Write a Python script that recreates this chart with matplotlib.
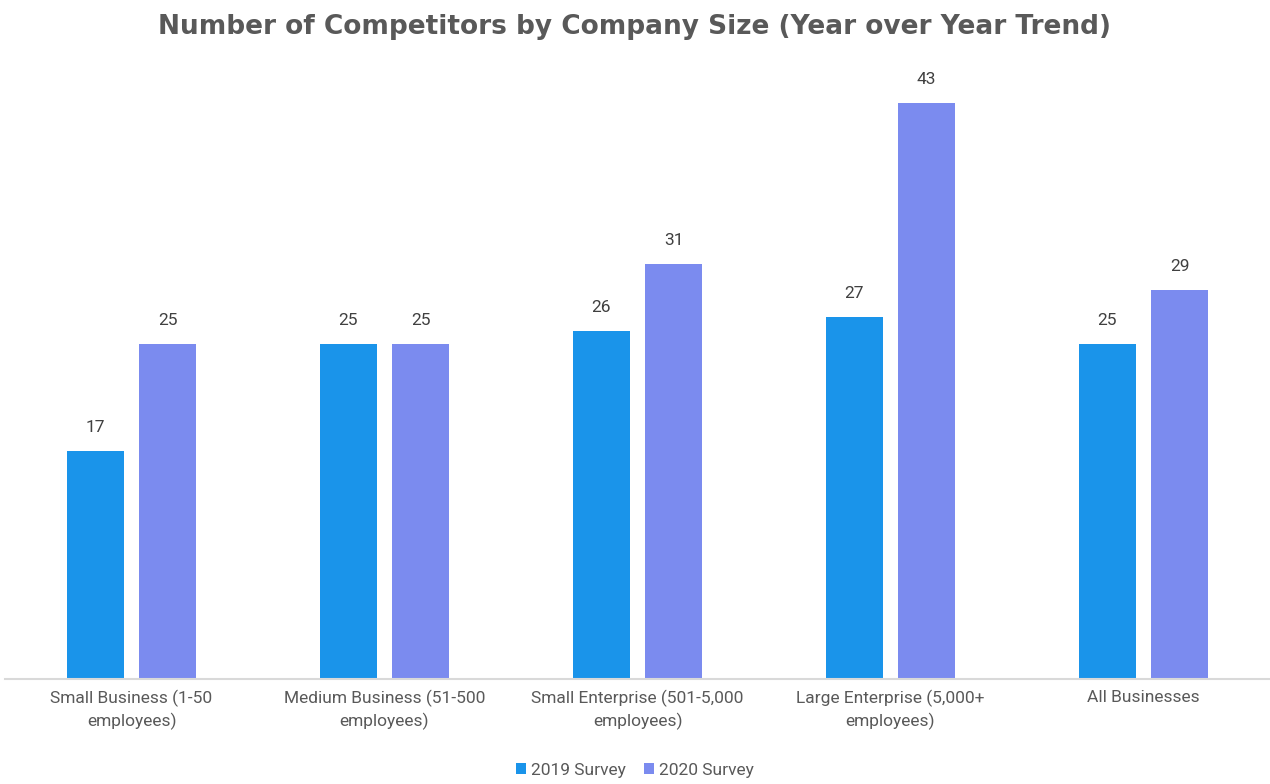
import numpy as np
import matplotlib.pyplot as plt

categories = [
    "Small Business (1-50\nemployees)",
    "Medium Business (51-500\nemployees)",
    "Small Enterprise (501-5,000\nemployees)",
    "Large Enterprise (5,000+\nemployees)",
    "All Businesses",
]
survey_2019 = [17, 25, 26, 27, 25]
survey_2020 = [25, 25, 31, 43, 29]
series_names = ["2019 Survey", "2020 Survey"]

blue = "#1a94ea"
purple = "#7b8bef"
text_gray = "#595959"

plt.rcParams["font.family"] = ["Roboto", "DejaVu Sans"]

fig = plt.figure(figsize=(12.7, 7.84), dpi=100)
ax = fig.add_axes([5 / 1270, 105 / 784, 1265 / 1270, 619 / 784])

x = np.arange(len(categories))
width = 0.225
offset = 0.1425
b1 = ax.bar(x - offset, survey_2019, width, color=blue, label=series_names[0])
b2 = ax.bar(x + offset, survey_2020, width, color=purple, label=series_names[1])

for bars in (b1, b2):
    for rect in bars:
        h = rect.get_height()
        ax.text(rect.get_x() + rect.get_width() / 2, h + 1.2, f"{h:.0f}",
                ha="center", va="bottom", fontsize=12.5, color="#404040")

ax.set_xlim(-0.5, len(categories) - 0.5)
ax.set_ylim(0, 46.2)
ax.set_xticks(x)
ax.set_xticklabels(categories, fontsize=12.5, color=text_gray, linespacing=1.4)
ax.tick_params(axis="x", length=0, pad=8)
ax.set_yticks([])
for side in ("top", "right", "left"):
    ax.spines[side].set_visible(False)
ax.spines["bottom"].set_color("#d9d9d9")
ax.spines["bottom"].set_linewidth(1.5)

fig.text(0.5, 0.982, "Number of Competitors by Company Size (Year over Year Trend)",
         ha="center", va="top", fontsize=19, fontweight="bold", color=text_gray,
         family="DejaVu Sans")

fig.legend(handles=[b1, b2], loc="lower center", bbox_to_anchor=(0.5, -0.012),
           ncol=2, frameon=False, fontsize=12.5, labelcolor=text_gray,
           handlelength=0.6, handleheight=0.6, handletextpad=0.3, columnspacing=1.0)

fig.savefig("out.png", dpi=100)
